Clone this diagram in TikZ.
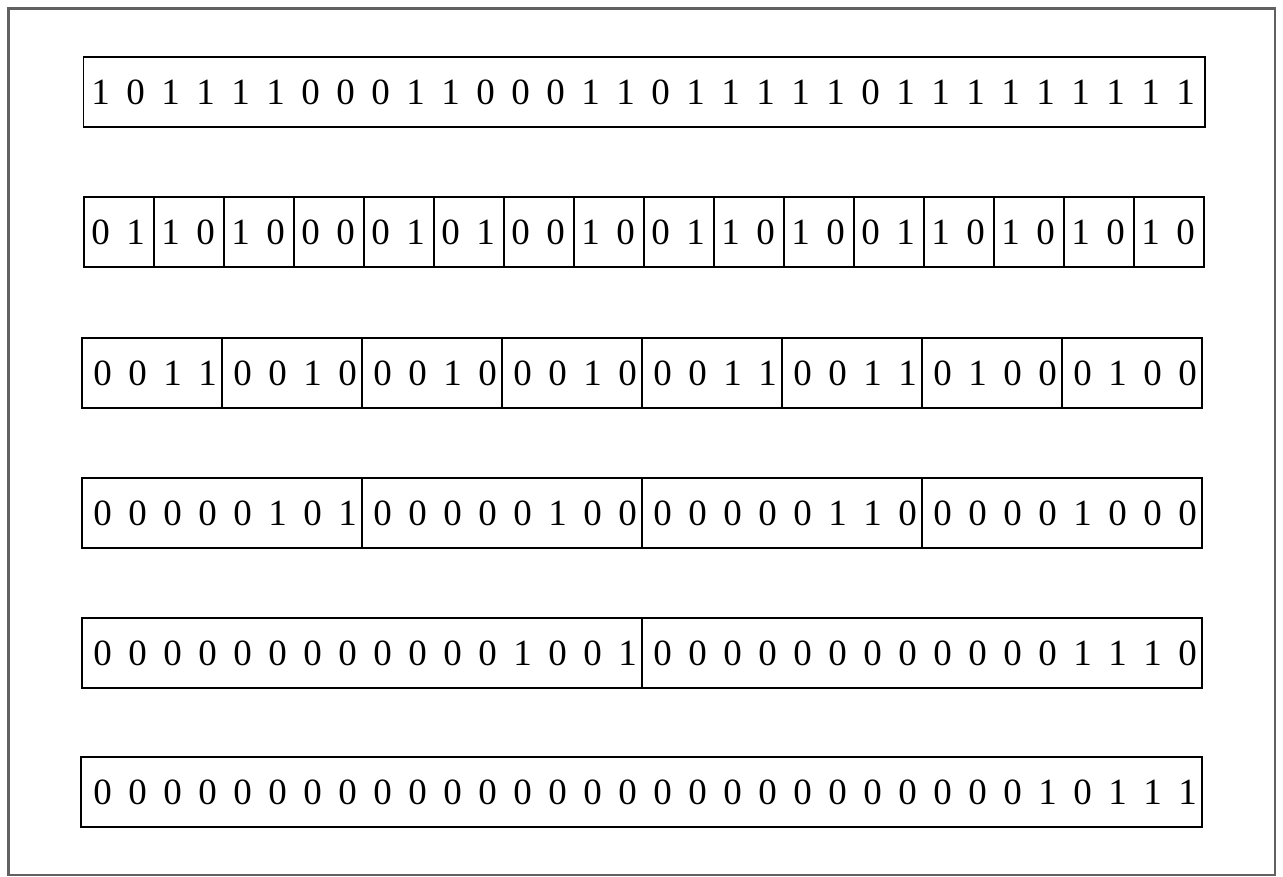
\documentclass[tikz,border=0pt]{standalone}
\usepackage{fontspec}
\setmainfont{Liberation Serif}
\newcommand\drawbitrow[7]{%
  \foreach \c in {1,...,#5} {
    \node[cellbox=#4] (#1c\c) at ({#2+(\c-1)*#4},#3) {};
  }
  \foreach \d [count=\k from 0] in {#6} {
    \node[bit] (#1b\k) at ({#2+17.5+35*\k+#7},{#3+47.5}) {\d};
  }
}
\begin{document}
\begin{tikzpicture}[x=1pt,y=-1pt,
  cellbox/.style={draw=black, line width=1.7pt, minimum width=#1pt, minimum height=70pt, inner sep=0pt, outer sep=0pt, anchor=north west},
  bit/.style={font=\fontsize{37}{40}\selectfont, anchor=base, inner sep=0pt}]
\useasboundingbox (0,0) rectangle (1283,877);
\draw[line width=2.5pt, draw=black!62] (8.5,8.5) rectangle (1275,875);
\drawbitrow{ra}{83.5}{57}{1121.5}{1}{1,0,1,1,1,1,0,0,0,1,1,0,0,0,1,1,0,1,1,1,1,1,0,1,1,1,1,1,1,1,1,1}{-0.5}
\drawbitrow{rb}{84}{197}{70}{16}{0,1,1,0,1,0,0,0,0,1,0,1,0,0,1,0,0,1,1,0,1,0,0,1,1,0,1,0,1,0,1,0}{-1}
\drawbitrow{rc}{82}{338}{140}{8}{0,0,1,1,0,0,1,0,0,0,1,0,0,0,1,0,0,0,1,1,0,0,1,1,0,1,0,0,0,1,0,0}{3}
\drawbitrow{rd}{82}{478}{280}{4}{0,0,0,0,0,1,0,1,0,0,0,0,0,1,0,0,0,0,0,0,0,1,1,0,0,0,0,0,1,0,0,0}{3}
\drawbitrow{re}{82}{618}{560}{2}{0,0,0,0,0,0,0,0,0,0,0,0,1,0,0,1,0,0,0,0,0,0,0,0,0,0,0,0,1,1,1,0}{3}
\drawbitrow{rf}{81}{757}{1121}{1}{0,0,0,0,0,0,0,0,0,0,0,0,0,0,0,0,0,0,0,0,0,0,0,0,0,0,0,1,0,1,1,1}{4}
\end{tikzpicture}
\end{document}
